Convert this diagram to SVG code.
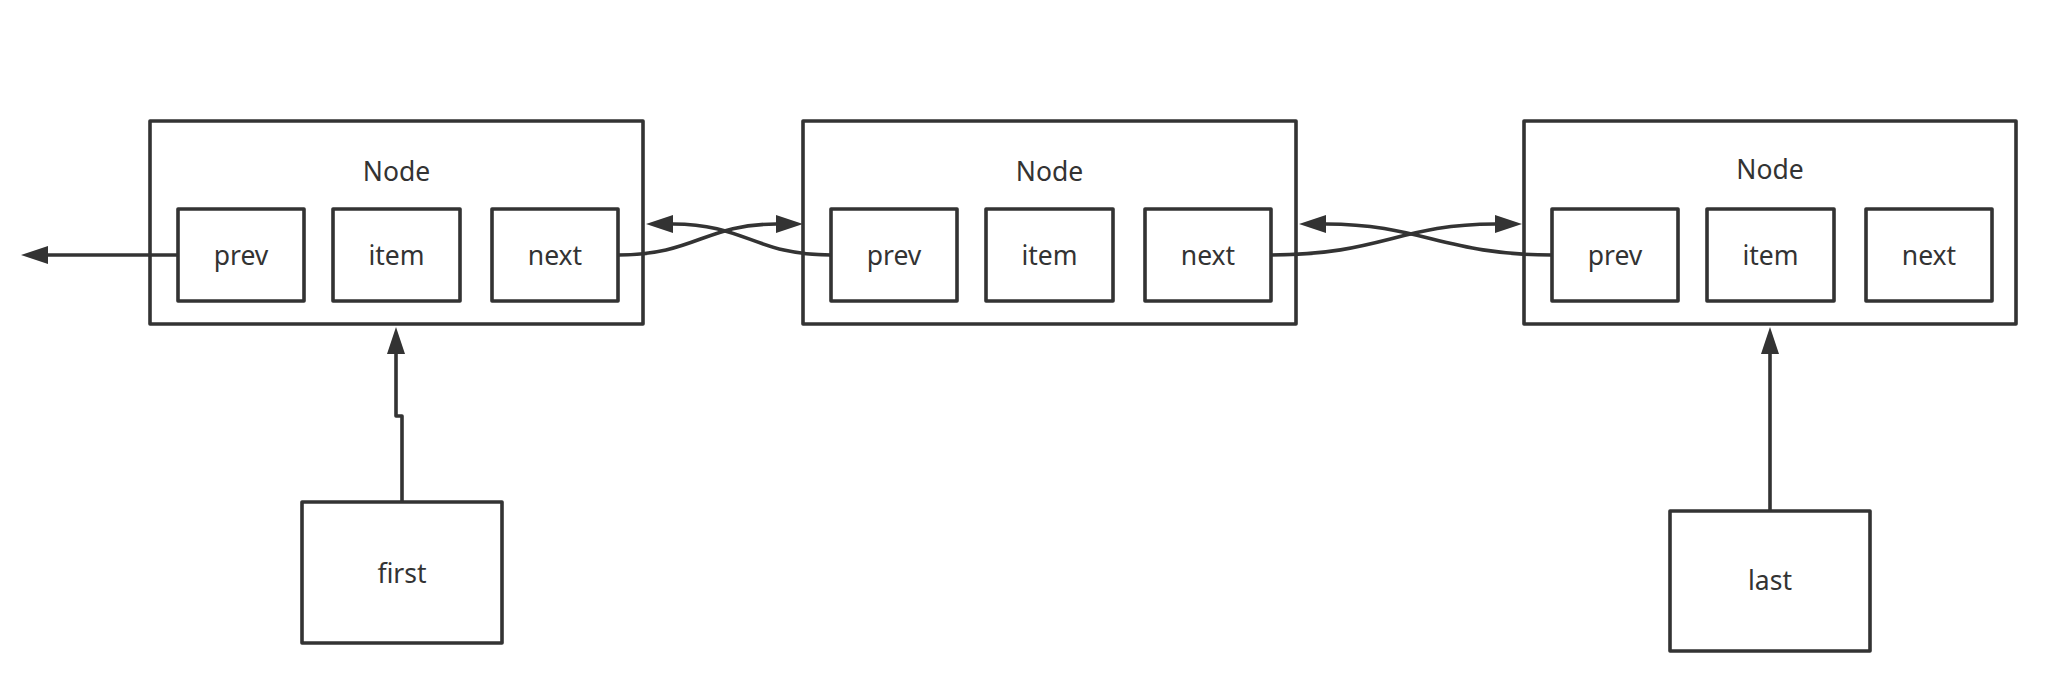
<svg xmlns="http://www.w3.org/2000/svg" width="2050" height="680" viewBox="0 0 2050 680">
<style>
  .box{fill:#fff;stroke:#333;stroke-width:3.6;stroke-linejoin:round}
  .lbl{font-family:"Noto Sans","Liberation Sans",sans-serif;font-size:26.5px;fill:#333;text-anchor:middle}
  .conn{fill:none;stroke:#333;stroke-width:3.6;marker-end:url(#ah)}
</style>
<defs>
  <marker id="ah" viewBox="0 0 27 18" refX="0" refY="9" markerWidth="27" markerHeight="18" markerUnits="userSpaceOnUse" orient="auto">
    <path d="M0,0 L27,9 L0,18 Z" fill="#333"/>
  </marker>
</defs>
<rect width="2050" height="680" fill="#fff"/>

<g id="node1">
  <rect class="box" x="150" y="121" width="493" height="203"/>
  <text class="lbl" x="396.5" y="181">Node</text>
  <rect class="box" x="178" y="209" width="126" height="92"/>
  <text class="lbl" x="241" y="265">prev</text>
  <rect class="box" x="333" y="209" width="127" height="92"/>
  <text class="lbl" x="396.5" y="265">item</text>
  <rect class="box" x="492" y="209" width="126" height="92"/>
  <text class="lbl" x="555" y="265">next</text>
</g>

<g id="node2">
  <rect class="box" x="803" y="121" width="493" height="203"/>
  <text class="lbl" x="1049.5" y="181">Node</text>
  <rect class="box" x="831" y="209" width="126" height="92"/>
  <text class="lbl" x="894" y="265">prev</text>
  <rect class="box" x="986" y="209" width="127" height="92"/>
  <text class="lbl" x="1049.5" y="265">item</text>
  <rect class="box" x="1145" y="209" width="126" height="92"/>
  <text class="lbl" x="1208" y="265">next</text>
</g>

<g id="node3">
  <rect class="box" x="1524" y="121" width="492" height="203"/>
  <text class="lbl" x="1770" y="179">Node</text>
  <rect class="box" x="1552" y="209" width="126" height="92"/>
  <text class="lbl" x="1615" y="265">prev</text>
  <rect class="box" x="1707" y="209" width="127" height="92"/>
  <text class="lbl" x="1770.5" y="265">item</text>
  <rect class="box" x="1866" y="209" width="126" height="92"/>
  <text class="lbl" x="1929" y="265">next</text>
</g>

<g id="first">
  <rect class="box" x="302" y="502" width="200" height="141"/>
  <text class="lbl" x="402" y="583">first</text>
</g>

<g id="last">
  <rect class="box" x="1670" y="511" width="200" height="140"/>
  <text class="lbl" x="1770" y="590">last</text>
</g>

<g id="connectors">
  <path class="conn" d="M178,255 L48,255"/>
  <path class="conn" d="M618,255 C695,255 705,224 776,224"/>
  <path class="conn" d="M831,255 C755,255 745,224 673,224"/>
  <path class="conn" d="M1271,255 C1380,255 1400,224 1495,224"/>
  <path class="conn" d="M1552,255 C1445,255 1420,224 1326,224"/>
  <path class="conn" d="M402,502 L402,416 L396,416 L396,354" style="stroke-linejoin:round"/>
  <path class="conn" d="M1770,511 L1770,354"/>
</g>
</svg>
